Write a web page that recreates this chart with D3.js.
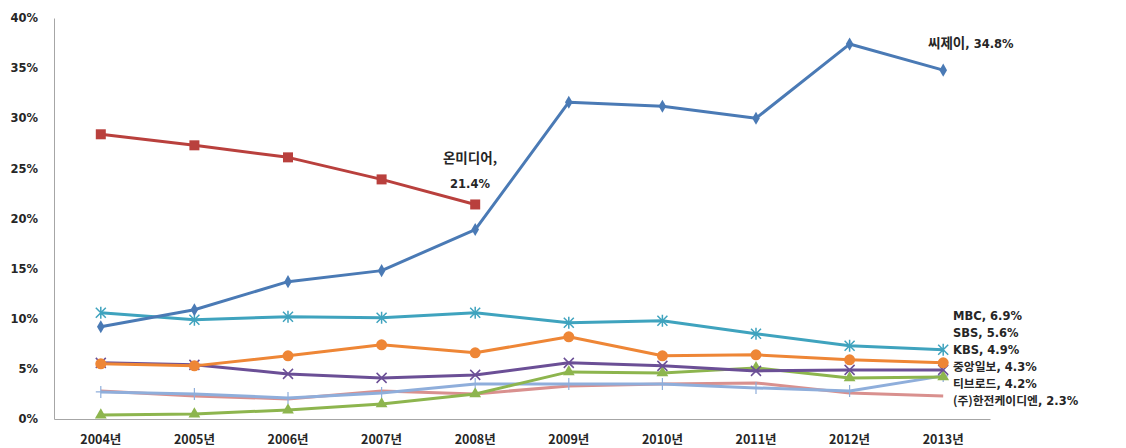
<!DOCTYPE html>
<html><head><meta charset="utf-8">
<script src="https://cdn.jsdelivr.net/npm/d3@7"></script>
<style>body{margin:0;background:#fff}svg{display:block}text{font-family:"Noto Sans CJK KR","Noto Sans",sans-serif;font-weight:bold;fill:#262626}</style>
</head><body>
<script>
const years = ["2004년","2005년","2006년","2007년","2008년","2009년","2010년","2011년","2012년","2013년"];
const yTicks = [0,5,10,15,20,25,30,35,40];
const cj      = [9.2,10.9,13.7,14.8,18.9,31.6,31.2,30.0,37.4,34.8];
const onmedia = [28.4,27.3,26.1,23.9,21.4,null,null,null,null,null];
const tbroad  = [0.4,0.5,0.9,1.5,2.5,4.7,4.6,5.1,4.1,4.2];
const kbs     = [5.6,5.4,4.5,4.1,4.4,5.6,5.3,4.8,4.9,4.9];
const mbc     = [10.6,9.9,10.2,10.1,10.6,9.6,9.8,8.5,7.3,6.9];
const sbs     = [5.5,5.3,6.3,7.4,6.6,8.2,6.3,6.4,5.9,5.6];
const joongang= [2.7,2.5,2.1,2.6,3.5,3.5,3.5,3.1,2.8,4.3];
const kdn     = [2.8,2.3,2.0,2.8,2.5,3.3,3.5,3.6,2.6,2.3];

const series = [
  {name:"씨제이", values:cj, color:"#4A7AB5", marker:"diamond"},
  {name:"온미디어", values:onmedia, color:"#B9403D", marker:"square"},
  {name:"티브로드", values:tbroad, color:"#8DB54E", marker:"triangle"},
  {name:"KBS", values:kbs, color:"#6B4F96", marker:"x"},
  {name:"MBC", values:mbc, color:"#3FA3BE", marker:"star"},
  {name:"SBS", values:sbs, color:"#EE8636", marker:"circle"},
  {name:"중앙일보", values:joongang, color:"#8FAEDB", marker:"plus"},
  {name:"(주)한전케이디엔", values:kdn, color:"#D9908E", marker:"none"}
];

const W=1126,H=448;
const svg=d3.select("body").append("svg").attr("width",W).attr("height",H);
const x=d3.scaleBand().domain(years).range([54,990]);
const y=d3.scaleLinear().domain([0,40]).range([419,18]);

// axes
const yAxis=svg.append("g").attr("transform","translate(54,0)").call(d3.axisLeft(y).tickValues(yTicks).tickSize(0).tickPadding(16).tickFormat(d=>d+"%"));
yAxis.select(".domain").attr("stroke","#A6A6A6");
yAxis.selectAll("text").style("font-family","'DejaVu Sans',sans-serif").attr("font-size",11.5);
const xAxis=svg.append("g").attr("transform","translate(0,419)").call(d3.axisBottom(x).tickSize(0).tickPadding(16));
xAxis.select(".domain").attr("stroke","#A6A6A6");
xAxis.selectAll("text").attr("font-size",12.5);

const cx=i=>x(years[i])+x.bandwidth()/2;
const line=d3.line().defined(d=>d.v!=null).x(d=>cx(d.i)).y(d=>y(d.v));

// draw in reverse so blue on top
const order=[7,6,2,3,5,4,1,0];
order.forEach(k=>{
  const s=series[k];
  const pts=s.values.map((v,i)=>({v,i}));
  const g=svg.append("g");
  g.append("path").datum(pts).attr("d",line).attr("fill","none").attr("stroke",s.color).attr("stroke-width",3).attr("stroke-linejoin","round");
  pts.filter(p=>p.v!=null).forEach(p=>{
    const px=cx(p.i),py=y(p.v);
    const m=s.marker;
    if(m==="diamond") g.append("path").attr("d",d3.symbol(d3.symbolDiamond,50)()).attr("transform",`translate(${px},${py})`).attr("fill",s.color);
    else if(m==="square") g.append("rect").attr("x",px-5).attr("y",py-5).attr("width",10).attr("height",10).attr("fill",s.color);
    else if(m==="triangle") g.append("path").attr("d",d3.symbol(d3.symbolTriangle,60)()).attr("transform",`translate(${px},${py})`).attr("fill",s.color);
    else if(m==="circle") g.append("circle").attr("cx",px).attr("cy",py).attr("r",5.5).attr("fill",s.color);
    else if(m==="x") g.append("path").attr("d",`M${px-5},${py-5}L${px+5},${py+5}M${px-5},${py+5}L${px+5},${py-5}`).attr("stroke",s.color).attr("stroke-width",1.5);
    else if(m==="star") g.append("path").attr("d",`M${px-5},${py-5}L${px+5},${py+5}M${px-5},${py+5}L${px+5},${py-5}M${px},${py-6}L${px},${py+6}`).attr("stroke",s.color).attr("stroke-width",1.5);
    else if(m==="plus") g.append("path").attr("d",`M${px},${py-6}L${px},${py+6}M${px-5},${py}L${px+5},${py}`).attr("stroke",s.color).attr("stroke-width",1.2);
  });
});

// labels
function lbl(xp,yp,kor,rest,ks){
  const t=svg.append("text").attr("x",xp).attr("y",yp);
  if(kor) t.append("tspan").attr("font-size",ks||11.8).text(kor);
  t.append("tspan").attr("font-size",11.5).style("font-family","'DejaVu Sans',sans-serif").text(rest);
}
lbl(928,48,"씨제이",", 34.8%",13.5);
svg.append("text").attr("x",470).attr("y",163).attr("text-anchor","middle").attr("font-size",13.5).text("온미디어,");
svg.append("text").attr("x",470).attr("y",188).attr("text-anchor","middle").attr("font-size",11.5).style("font-family","'DejaVu Sans',sans-serif").text("21.4%");
lbl(953,320,"","MBC, 6.9%");
lbl(953,337,"","SBS, 5.6%");
lbl(953,354,"","KBS, 4.9%");
lbl(953,371,"중앙일보",", 4.3%");
lbl(953,388,"티브로드",", 4.2%");
lbl(953,405,"(주)한전케이디엔",", 2.3%");
</script>
</body></html>
